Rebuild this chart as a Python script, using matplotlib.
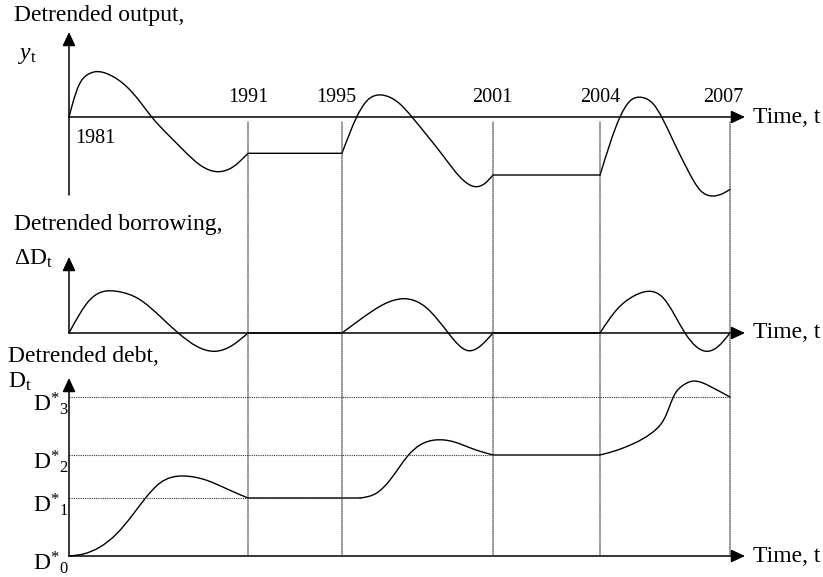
import numpy as np
import matplotlib
matplotlib.use("Agg")
import matplotlib.pyplot as plt
from matplotlib.path import Path
from matplotlib.patches import PathPatch, ConnectionPatch

plt.rcParams['font.family'] = ['Liberation Serif', 'DejaVu Serif']
plt.rcParams['mathtext.fontset'] = 'custom'
plt.rcParams['mathtext.rm'] = 'Liberation Serif'
plt.rcParams['mathtext.it'] = 'Liberation Serif:italic'
plt.rcParams['mathtext.bf'] = 'Liberation Serif:bold'

# ---- data (schematic time units; year breakpoints are not evenly spaced) ----
years = ['1981', '1991', '1995', '2001', '2004', '2007']
year_pos = [0.0, 17.9, 27.3, 42.4, 53.1, 66.1]

# Detrended output y_t : pieces (x, y)
out_x1 = [0, 0.35, 1.0, 1.8, 2.67, 4.1, 5.77, 7.1, 8.27, 9.77, 11.43, 13.1, 14.93, 16.43, 17.9]
out_y1 = [0, 1.3, 3.2, 4.2, 4.53, 4.2, 3.03, 1.53, 0, -1.63, -3.3, -4.8, -5.47, -4.97, -3.63]
out_x2 = [17.9, 27.3]
out_y2 = [-3.63, -3.63]
out_x3 = [27.3, 28.77, 29.77, 31.27, 33.1, 34.3, 35.77, 37.43, 39.1, 40.7, 41.6, 42.4]
out_y3 = [-3.63, 0, 1.6, 2.2, 1.3, 0, -1.8, -3.9, -6.0, -6.97, -6.63, -5.8]
out_x4 = [42.4, 53.1]
out_y4 = [-5.8, -5.8]
out_x5 = [53.1, 55.1, 56.1, 57.33, 58.43, 59.27, 60.43, 61.77, 63.1, 64.43, 65.43, 66.1]
out_y5 = [-5.83, 0, 1.6, 1.95, 1.3, 0, -2.4, -5.1, -7.3, -7.9, -7.63, -7.23]

# Detrended borrowing ΔD_t
bor_x1 = [0, 2.1, 4.77, 7.1, 9.1, 10.93, 12.77, 14.6, 16.43, 17.9]
bor_y1 = [0, 3.33, 4.17, 3.33, 1.67, 0, -1.33, -1.83, -1.17, 0]
bor_x2 = [17.9, 27.3]
bor_y2 = [0, 0]
bor_x3 = [27.3, 29.1, 31.1, 33.43, 35.77, 37.93, 39.93, 41.1, 42.4]
bor_y3 = [0, 1.33, 2.67, 3.43, 2.5, 0, -1.77, -1.33, 0]
bor_x4 = [42.4, 53.1]
bor_y4 = [0, 0]
bor_x5 = [53.1, 54.77, 56.43, 57.93, 59.43, 61.6, 63.77, 64.93, 66.1]
bor_y5 = [0, 2.33, 3.67, 4.17, 3.5, 0, -1.83, -1.33, 0]

# Detrended debt D_t
debt_levels = [0.0, 5.8, 10.1, 15.9]
debt_labels = ['D$^{*}{}_{0}$', 'D$^{*}{}_{1}$', 'D$^{*}{}_{2}$', 'D$^{*}{}_{3}$']
debt_level_end = [None, 27.3, 42.4, 66.1]
debt_x1 = [0, 1.43, 3.1, 4.77, 6.43, 7.6, 9.1, 11.43, 13.77, 16.1, 17.9]
debt_y1 = [0, 0.2, 0.9, 2.23, 4.2, 5.73, 7.3, 8.0, 7.57, 6.57, 5.8]
debt_x2 = [17.9, 29.1]
debt_y2 = [5.8, 5.8]
debt_x3 = [29.1, 30.77, 32.1, 33.93, 35.1, 36.6, 38.43, 40.43, 42.4]
debt_y3 = [5.8, 6.3, 7.6, 10.07, 11.1, 11.6, 11.43, 10.7, 10.1]
debt_x4 = [42.4, 53.1]
debt_y4 = [10.1, 10.1]
debt_x5 = [53.1, 54.77, 56.43, 58.6, 59.77, 60.43, 61.27, 62.27, 64.1, 66.1]
debt_y5 = [10.1, 10.57, 11.23, 12.57, 14.23, 15.9, 16.97, 17.47, 16.97, 15.9]


def spline_slopes(x, y):
    """Knot slopes of a natural cubic spline through (x, y)."""
    x = np.asarray(x, float); y = np.asarray(y, float)
    n = len(x)
    h = np.diff(x); d = np.diff(y) / h
    if n == 2:
        return np.array([d[0], d[0]])
    A = np.zeros((n, n)); b = np.zeros(n)
    A[0, 0] = 1; A[-1, -1] = 1
    for k in range(1, n - 1):
        A[k, k - 1] = h[k - 1]
        A[k, k] = 2 * (h[k - 1] + h[k])
        A[k, k + 1] = h[k]
        b[k] = 6 * (d[k] - d[k - 1])
    M = np.linalg.solve(A, b)
    m = np.zeros(n)
    m[:-1] = d - h * (2 * M[:-1] + M[1:]) / 6
    m[-1] = d[-1] + h[-1] * (M[-2] + 2 * M[-1]) / 6
    return m


def smooth_path(xs, ys):
    x = np.asarray(xs, float); y = np.asarray(ys, float)
    m = spline_slopes(x, y)
    verts = [(x[0], y[0])]
    codes = [Path.MOVETO]
    for k in range(len(x) - 1):
        h = x[k + 1] - x[k]
        verts += [(x[k] + h / 3, y[k] + m[k] * h / 3),
                  (x[k + 1] - h / 3, y[k + 1] - m[k + 1] * h / 3),
                  (x[k + 1], y[k + 1])]
        codes += [Path.CURVE4] * 3
    return Path(verts, codes)


W, H = 823, 577
fig = plt.figure(figsize=(W / 100, H / 100), dpi=100)

x0_px = 69
def panel(base_px):
    ax = fig.add_axes([0, 0, 1, 1])
    ax.set_xlim(-x0_px / 10, (W - x0_px) / 10)
    ax.set_ylim((base_px - H) / 10, base_px / 10)
    ax.axis('off')
    ax.patch.set_alpha(0)
    return ax

ax1 = panel(117)
ax2 = panel(333)
ax3 = panel(556)

axis_col = '#444444'
vcol = '#6a6a6a'
lw_curve = 1.0
t_end = 67.6
fs_lab = 17
fs_year = 14.5

def time_axis(ax):
    ax.annotate('', xy=(t_end, 0), xytext=(0, 0),
                arrowprops=dict(arrowstyle='-|>,head_length=0.6,head_width=0.28',
                                color=axis_col, lw=1.1, shrinkA=0, shrinkB=0,
                                mutation_scale=14, fc='black', ec='black'))
    ax.text(t_end + 0.8, 0, 'Time, t', fontsize=fs_lab, ha='left', va='center')

def val_axis(ax, ylow, ytop):
    ax.annotate('', xy=(0, ytop), xytext=(0, ylow),
                arrowprops=dict(arrowstyle='-|>,head_length=0.6,head_width=0.28',
                                color=vcol, lw=1.1, shrinkA=0, shrinkB=0,
                                mutation_scale=14, fc='black', ec='black'))

def draw_pieces(ax, pieces):
    for xs, ys in pieces:
        ax.add_patch(PathPatch(smooth_path(xs, ys), fc='none', ec='black',
                               lw=lw_curve, capstyle='round', joinstyle='round'))

# ---- top panel ----
time_axis(ax1)
val_axis(ax1, -7.8, 8.5)
draw_pieces(ax1, [(out_x1, out_y1), (out_x2, out_y2), (out_x3, out_y3),
                  (out_x4, out_y4), (out_x5, out_y5)])
ax1.text(-5.5, 10.2, 'Detrended output,', fontsize=fs_lab, ha='left', va='center')
ax1.text(-5.1, 6.2, r'$y_{\mathrm{t}}$', fontsize=fs_lab, ha='left', va='center')
year_dx = [0.6, 0.0, -0.6, -0.1, 0.0, -0.7]
for yr, xp, dx in zip(years, year_pos, year_dx):
    if yr == '1981':
        ax1.text(xp + dx, -2.1, yr, fontsize=fs_year, ha='left', va='center')
    else:
        ax1.text(xp + dx, 2.0, yr, fontsize=fs_year, ha='center', va='center')

# ---- middle panel ----
time_axis(ax2)
val_axis(ax2, 0, 7.6)
draw_pieces(ax2, [(bor_x1, bor_y1), (bor_x2, bor_y2), (bor_x3, bor_y3),
                  (bor_x4, bor_y4), (bor_x5, bor_y5)])
ax2.text(-5.5, 10.8, 'Detrended borrowing,', fontsize=fs_lab, ha='left', va='center')
ax2.text(-5.5, 7.4, r'ΔD$_{\mathrm{t}}$', fontsize=fs_lab, ha='left', va='center')

# ---- bottom panel ----
time_axis(ax3)
val_axis(ax3, 0, 17.8)
for lvl, end in zip(debt_levels, debt_level_end):
    if end is not None:
        ax3.plot([0, end], [lvl, lvl], color='#333333', lw=0.8,
                 linestyle=(0, (1, 1)))
draw_pieces(ax3, [(debt_x1, debt_y1), (debt_x2, debt_y2), (debt_x3, debt_y3),
                  (debt_x4, debt_y4), (debt_x5, debt_y5)])
for lvl, lab in zip(debt_levels, debt_labels):
    ax3.text(-3.6, lvl - 0.7, lab, fontsize=17, ha='left', va='center')
ax3.text(-6.1, 19.9, 'Detrended debt,', fontsize=fs_lab, ha='left', va='center')
ax3.text(-6.1, 17.4, r'D$_{\mathrm{t}}$', fontsize=17, ha='left', va='center')

# vertical dotted year lines spanning the three panels
for xp in year_pos[1:]:
    con = ConnectionPatch(xyA=(xp, -0.5), coordsA=ax1.transData,
                          xyB=(xp, 0), coordsB=ax3.transData,
                          color='#333333', lw=0.8, linestyle=(0, (1, 1)))
    fig.add_artist(con)

fig.savefig('out.png', dpi=100)
